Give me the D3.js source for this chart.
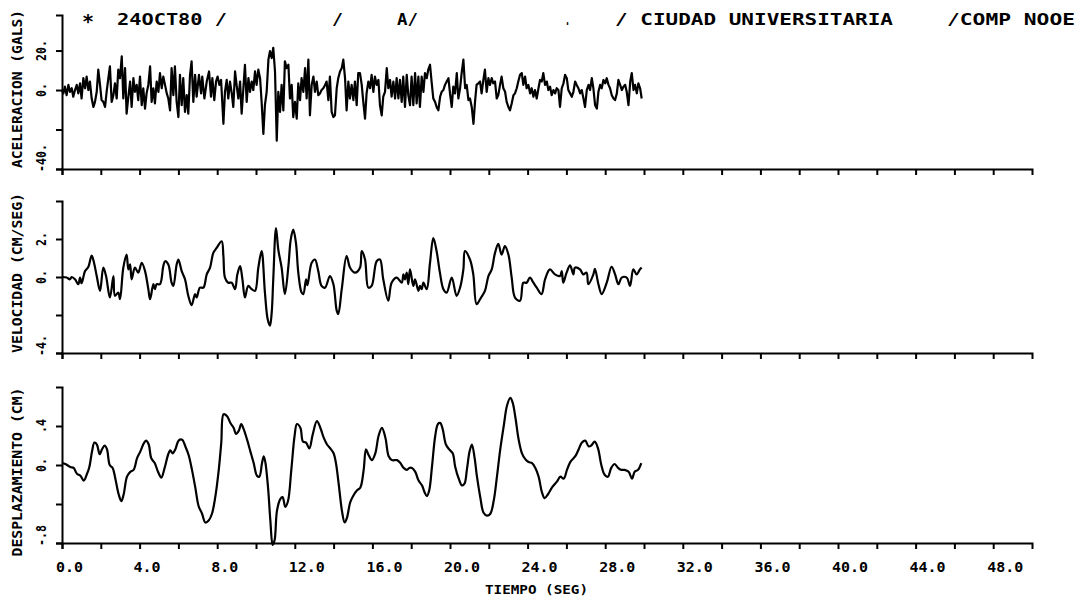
<!DOCTYPE html>
<html>
<head>
<meta charset="utf-8">
<script src="https://cdn.jsdelivr.net/npm/d3@7"></script>
<style>
  body { margin: 0; background: #fff; }
  svg { display: block; }
  text { font-family: "DejaVu Sans Mono", "Liberation Mono", monospace; font-weight: bold; fill: #000; }
</style>
</head>
<body>
<svg id="chart" width="1083" height="601"></svg>
<script>
// --- header / axis texts
const headerParts = ["24OCT80 /", "/", "A/", ".", "/ CIUDAD UNIVERSITARIA", "/COMP NOOE"]
const titles = ["ACELERACION (GALS)", "VELOCIDAD (CM/SEG)", "DESPLAZAMIENTO (CM)"]
const xTitle = "TIEMPO (SEG)"

// --- time axis (seg)
const timeTicks = [0, 2, 4, 6, 8, 10, 12, 14, 16, 18, 20, 22, 24, 26, 28, 30, 32, 34, 36, 38, 40, 42, 44, 46, 48]
const timeLabelValues = [0, 4, 8, 12, 16, 20, 24, 28, 32, 36, 40, 44, 48]
const timeLabels = ["0.0", "4.0", "8.0", "12.0", "16.0", "20.0", "24.0", "28.0", "32.0", "36.0", "40.0", "44.0", "48.0"]

// --- y ticks per panel
const accTicks = [-40, -20, 0, 20]
const accLabels = ["-40.", "", "0.", "20."]
const velTicks = [-4, -2, 0, 2]
const velLabels = ["-4.", "", "0.", "2."]
const dispTicks = [-0.8, -0.4, 0, 0.4]
const dispLabels = ["-.8", "", "0.", ".4"]

// --- aceleracion (gals)
const accTime = [0,0.07,0.15,0.24,0.33,0.41,0.50,0.58,0.67,0.76,0.84,0.93,1.01,1.10,1.19,1.27,1.36,1.44,1.53,1.62,1.70,1.79,1.87,1.96,2.04,2.13,2.22,2.30,2.39,2.47,2.56,2.65,2.73,2.82,2.90,2.99,3.08,3.16,3.25,3.33,3.42,3.51,3.59,3.68,3.76,3.85,3.93,4.02,4.11,4.19,4.28,4.36,4.45,4.54,4.62,4.71,4.79,4.88,4.97,5.05,5.14,5.22,5.31,5.40,5.48,5.57,5.65,5.74,5.82,5.91,6.00,6.08,6.17,6.25,6.34,6.43,6.51,6.60,6.68,6.77,6.86,
  6.94,7.06,7.17,7.23,7.34,7.46,7.58,7.68,7.75,7.85,7.94,8.02,8.11,8.20,8.32,8.40,8.49,8.57,8.66,8.75,8.83,8.92,9.00,9.09,9.18,9.26,9.35,9.43,9.52,9.61,9.69,9.78,9.86,9.95,10.03,10.12,10.21,10.29,10.38,10.46,10.55,10.64,10.72,10.81,10.89,10.98,11.07,11.15,11.24,11.32,11.41,11.49,11.58,11.67,11.75,11.84,11.92,12.01,12.10,12.18,12.27,12.35,12.44,12.53,12.61,12.70,12.78,12.87,12.96,13.04,13.13,13.21,13.30,13.38,13.47,13.56,13.64,13.73,13.81,13.90,13.99,
  14.07,14.16,14.24,14.33,14.42,14.50,14.59,14.67,14.76,14.84,14.93,15.02,15.10,15.19,15.27,15.36,15.45,15.53,15.62,15.70,15.79,15.88,15.96,16.05,16.13,16.22,16.31,16.39,16.48,16.56,16.65,16.74,16.82,16.91,16.99,17.08,17.17,17.25,17.34,17.42,17.51,17.59,17.68,17.77,17.85,17.94,18.02,18.11,18.20,18.28,18.37,18.45,18.54,18.63,18.71,18.80,18.88,18.97,19.06,19.14,19.23,19.31,19.40,19.49,19.57,19.66,19.74,19.83,19.92,20.00,20.09,20.17,20.26,20.35,20.43,20.52,20.60,20.69,20.78,20.86,20.95,21.03,21.12,21.21,21.29,21.37,21.46,21.55,
  21.63,21.72,21.80,21.89,21.98,22.06,22.15,22.23,22.32,22.41,22.49,22.58,22.66,22.75,22.84,22.92,23.01,23.09,23.18,23.27,23.35,23.44,23.52,23.61,23.70,23.78,23.87,23.95,24.04,24.13,24.21,24.30,24.38,24.47,24.56,24.64,24.73,24.81,24.90,24.99,25.07,25.16,25.24,25.33,25.42,25.50,25.59,25.67,25.76,25.85,25.93,26.02,26.10,26.19,26.28,26.36,26.45,26.53,26.62,26.71,26.79,26.88,26.96,27.05,27.14,27.22,27.31,27.39,27.48,27.57,27.65,27.74,27.82,27.91,28.00,28.08,28.17,28.25,28.34,28.43,28.51,28.60,28.68,28.77,28.86,28.94,29.03,29.11,29.20,29.29,29.37,29.46,29.54,29.63,29.71,29.80,29.88]
const accValue = [0,-1.7,1.7,-2.6,2.6,-0.9,0.9,-3.4,0,2.6,-1.7,3.4,-4.3,6.0,0.9,6.8,0,4.3,-4.3,-8.6,-6.0,-0.9,10.3,2.6,-5.1,-6.0,-8.6,-0.9,6.0,12.0,-6.0,-2.6,3.4,-4.3,10.3,6.0,17.1,-4.3,11.1,-12.0,-3.4,4.3,-8.6,6.0,-0.9,2.6,-5.1,6.8,-7.7,0.9,-9.4,-1.7,2.6,12.0,-6.0,0.9,-6.8,4.3,-0.9,8.6,0.9,6.8,2.6,-1.7,-4.3,-10.3,11.1,-2.6,12.0,-6.0,-13.7,7.7,-7.7,6.0,-11.1,-2.6,-12.0,7.7,14.5,-6.0,7.7,
  -3.4,7.7,-1.7,6.8,-4.3,4.3,9.4,-3.4,6.0,-5.1,4.3,6.8,2.6,5.1,-17.1,-0.9,5.1,-4.3,4.3,-1.7,-8.6,9.4,2.6,-4.3,4.3,-12.0,0.9,12.8,-6.0,6.0,-0.9,4.3,0,9.4,2.6,10.3,6.0,-6.0,-22.2,-7.7,-0.9,15.4,19.7,16.2,21.4,9.4,-25.7,-0.9,-11.1,2.6,-10.3,14.5,11.1,12.8,-4.3,2.6,-13.7,-6.0,-14.5,3.4,-5.1,6.0,-0.9,11.1,-4.3,15.4,-12.8,2.6,6.8,-0.9,4.3,-2.6,-1.7,0,0.9,2.6,4.3,-5.1,6.8,-11.1,-13.7,
  -12.8,0.9,6.0,9.4,11.1,15.4,6.0,-10.3,4.3,-4.3,2.6,-5.1,4.3,-7.7,8.6,8.6,2.6,-6.0,-14.5,-1.7,4.3,0.9,7.7,-0.9,6.8,2.6,5.1,-7.7,-12.8,-3.4,-0.9,11.1,0.9,5.1,-3.4,4.3,-4.3,6.0,-4.3,5.1,-6.0,6.8,-8.6,7.7,-2.6,-7.7,6.8,-7.7,8.6,-6.8,6.8,-8.6,6.8,-0.9,8.6,6.0,10.3,12.8,3.4,-4.3,-6.0,-8.6,-10.3,-3.4,-0.9,0,2.6,4.3,6.0,-1.7,-8.6,1.7,-1.7,8.6,-4.3,0.9,8.6,15.4,0.9,2.6,-5.1,-4.3,-8.6,-17.1,-6.0,2.6,3.4,4.3,
  -1.7,5.1,10.3,-0.9,6.0,2.6,6.0,3.4,4.3,-4.3,-2.6,2.6,6.8,0.9,-0.9,-6.0,-8.6,-10.3,-6.8,-2.6,-1.7,0.9,4.3,7.7,8.6,2.6,6.8,0.9,2.6,-1.7,0.9,-3.4,0,-4.3,0.9,5.1,4.3,8.6,2.6,4.3,0,1.7,-2.6,0,-1.7,0.9,0,-8.6,0.9,3.4,7.7,6.0,0,-1.7,-3.4,-0.9,4.3,2.6,0.9,-1.7,0,-4.3,-8.6,0,2.6,0,6.0,0.9,-7.7,-9.4,-0.9,2.6,0.9,5.1,3.4,6.0,2.6,0.9,-2.6,-4.3,-5.1,-1.7,5.1,2.6,0,1.7,2.6,-0.9,-7.7,4.3,8.6,0,2.6,-1.7,3.4,0.9,-4.3]

// --- velocidad (cm/seg)
const velTime = [0,0.24,0.41,0.50,0.67,0.84,0.93,1.01,1.19,1.36,1.53,1.65,1.79,1.96,2.13,2.27,2.47,2.65,2.73,2.90,2.99,3.16,3.33,3.42,3.51,3.59,3.76,3.93,4.11,4.28,4.45,4.54,4.71,4.79,4.88,5.05,5.22,5.31,5.48,5.65,5.74,5.91,6.00,6.17,6.34,6.51,6.68,6.86,6.94,7.11,7.29,7.46,7.63,7.80,7.97,8.23,8.32,8.40,8.57,8.75,8.92,9.04,9.18,9.30,9.43,9.60,9.78,9.95,10.12,10.29,10.46,10.60,10.72,10.81,10.89,11.03,11.15,11.32,11.49,11.67,11.79,11.92,12.06,12.18,12.35,12.44,12.58,12.65,12.87,13.04,13.21,13.38,13.56,13.81,13.99,14.16,14.24,14.42,14.67,14.85,15.10,15.36,
  15.45,15.62,15.79,15.96,16.22,16.39,16.56,16.82,16.99,17.25,17.51,17.60,17.68,17.77,17.85,17.94,18.11,18.20,18.37,18.45,18.54,18.63,18.80,18.97,19.14,19.31,19.48,19.66,19.83,20.09,20.34,20.52,20.69,20.77,21.03,21.20,21.37,21.55,21.80,21.98,22.15,22.32,22.49,22.66,22.83,23.01,23.18,23.35,23.61,23.78,23.95,24.12,24.30,24.47,24.72,24.90,25.15,25.41,25.67,25.76,25.84,26.01,26.19,26.36,26.44,26.70,26.87,27.04,27.13,27.39,27.47,27.65,27.82,28.08,28.33,28.51,28.68,28.85,29.11,29.28,29.45,29.62,29.79,29.88]
const velValue = [0,-0.03,-0.12,0,-0.12,-0.38,-0.03,-0.33,0.31,0.54,1.13,0.75,0.05,-0.73,0.49,0.05,-1.08,0.05,-0.99,-0.82,-1.17,0.49,1.18,0.40,0.66,-0.12,0.49,0.23,0.75,0.31,-0.64,-1.17,-0.38,-0.64,-0.38,-0.38,0.57,0.83,0.66,-0.30,-0.47,0.66,0.92,0.31,-0.12,-0.99,-1.48,-0.90,-1.08,-0.56,-0.56,0.14,0.49,1.27,1.53,1.88,1.10,-0.03,-0.30,-0.30,-0.64,0.14,0.57,-0.12,-1.08,-0.47,-0.64,-0.73,0.49,1.36,-0.82,-2.21,-2.56,-1.86,-0.12,2.57,1.44,0.49,-0.90,0.57,1.97,2.49,1.79,0.23,-0.82,-0.90,-0.12,-0.43,0.75,0.92,0.31,-0.47,-0.56,0.05,-0.38,-1.77,-1.95,-0.64,1.10,0.49,0.23,0.49,
  1.36,0.92,-0.56,-0.47,0.83,0.92,-0.12,-1.25,-0.30,-0.03,-0.30,0.14,-0.12,0.23,-0.38,0.40,-0.47,-0.12,-0.73,-0.47,-0.64,-0.30,-0.64,0.75,2.05,1.36,0.23,-0.64,-0.82,-0.03,-0.99,-0.56,0.40,1.36,0.92,0.14,-1.43,-1.17,-0.73,0.05,0.40,1.27,1.74,1.18,1.62,1.18,-0.03,-1.08,-1.25,-0.30,-0.30,-0.03,-0.30,-0.56,-0.90,-0.12,0.40,0.14,0.05,0.31,-0.30,0.23,0.61,0.14,0.49,0.40,0.14,0.23,-0.38,0.14,0.43,-0.38,-0.90,-0.30,0.54,0.14,-0.38,-0.03,-0.03,-0.47,0.40,0.14,0.40,0.49]

// --- desplazamiento (cm)
const dispTime = [0,0.17,0.43,0.60,0.77,0.95,1.12,1.29,1.41,1.55,1.67,1.80,1.94,2.06,2.20,2.32,2.46,2.61,2.75,2.92,3.06,3.18,3.35,3.52,3.69,3.87,4.04,4.21,4.33,4.47,4.60,4.78,4.95,5.12,5.29,5.46,5.58,5.70,5.84,6.01,6.19,6.36,6.53,6.70,6.87,7.04,7.22,7.39,7.56,7.73,7.90,8.08,8.21,8.33,8.51,8.68,8.85,8.97,9.11,9.24,9.36,9.54,9.71,9.88,10.05,10.17,10.31,10.40,10.48,10.62,10.74,10.86,10.96,11.08,11.25,11.37,11.51,11.65,11.82,11.99,12.11,12.29,12.42,12.58,12.75,12.92,13.14,13.32,13.49,13.66,13.83,14.00,14.12,14.26,14.43,14.57,14.69,14.86,15.03,15.21,
  15.38,15.55,15.67,15.81,15.98,16.15,16.32,16.49,16.67,16.84,17.01,17.27,17.44,17.61,17.78,17.90,18.04,18.21,18.38,18.56,18.69,18.81,18.93,19.07,19.24,19.38,19.50,19.62,19.79,19.96,20.14,20.27,20.45,20.62,20.75,20.87,21.01,21.13,21.27,21.39,21.56,21.73,21.91,22.08,22.25,22.42,22.59,22.77,22.94,23.11,23.23,23.37,23.54,23.71,23.88,24.05,24.23,24.40,24.57,24.74,24.88,25.05,25.26,25.51,25.69,25.86,26.03,26.20,26.46,26.63,26.80,26.97,27.15,27.28,27.46,27.63,27.80,27.97,28.14,28.31,28.49,28.66,28.83,29.00,29.21,29.38,29.52,29.69,29.86]
const dispValue = [0.02,0.01,-0.02,-0.03,-0.09,-0.11,-0.16,-0.09,-0.02,0.14,0.23,0.21,0.11,0.16,0.20,0.16,0,-0.03,-0.14,-0.30,-0.37,-0.30,-0.12,-0.07,-0.05,0.07,0.14,0.22,0.25,0.21,0.07,0.02,-0.07,-0.13,-0.03,0.10,0.15,0.12,0.16,0.25,0.26,0.19,0.10,-0.05,-0.23,-0.42,-0.50,-0.59,-0.57,-0.50,-0.33,-0.05,0.23,0.52,0.50,0.43,0.38,0.32,0.35,0.42,0.37,0.26,0.14,0.02,-0.11,-0.12,0.02,0.09,0.03,-0.23,-0.57,-0.82,-0.77,-0.47,-0.35,-0.33,-0.43,-0.37,-0.05,0.30,0.42,0.38,0.24,0.23,0.17,0.31,0.45,0.38,0.28,0.21,0.17,0.12,0.02,-0.19,-0.47,-0.59,-0.54,-0.38,-0.31,-0.26,
  -0.23,-0.05,0.16,0.10,0.05,0.12,0.30,0.38,0.28,0.09,0.05,0.05,0.02,-0.03,-0.05,-0.03,-0.03,-0.07,-0.16,-0.21,-0.28,-0.32,-0.26,-0.02,0.30,0.42,0.43,0.37,0.21,0.16,0.12,-0.02,-0.14,-0.21,-0.19,-0.05,0.14,0.21,0.07,-0.12,-0.33,-0.49,-0.52,-0.50,-0.37,-0.12,0.16,0.40,0.61,0.69,0.64,0.49,0.26,0.12,0.06,0.03,0.02,-0.03,-0.12,-0.28,-0.34,-0.30,-0.23,-0.17,-0.12,-0.14,-0.05,0.03,0.09,0.16,0.23,0.25,0.19,0.20,0.24,0.17,0,-0.10,-0.12,-0.03,0.01,-0.03,-0.05,-0.05,-0.07,-0.14,-0.07,-0.05,0.02]

const svg = d3.select("#chart")
const x = d3.scaleLinear().domain([0, 50]).range([62, 1032])

const panels = [
  { time: accTime, value: accValue, domain: [-40, 38], range: [169, 15], ticks: accTicks, labels: accLabels, title: titles[0], titleY: 89, titleLen: 158, curve: d3.curveLinear },
  { time: velTime, value: velValue, domain: [-4, 4], range: [353, 201], ticks: velTicks, labels: velLabels, title: titles[1], titleY: 273, titleLen: 160, curve: d3.curveCatmullRom },
  { time: dispTime, value: dispValue, domain: [-0.8, 0.8], range: [543, 387], ticks: dispTicks, labels: dispLabels, title: titles[2], titleY: 472, titleLen: 169, curve: d3.curveCatmullRom }
]

function styleAxis(g) {
  g.selectAll("path, line").attr("stroke", "#000").attr("stroke-width", 2)
  g.selectAll(".tick text").remove()
}

panels.forEach(function(p, i) {
  const y = d3.scaleLinear().domain(p.domain).range(p.range)

  svg.append("g")
      .attr("transform", "translate(0," + p.range[0] + ")")
      .call(d3.axisBottom(x).tickValues(timeTicks).tickSize(6).tickSizeOuter(6))
      .call(styleAxis)

  svg.append("g")
      .attr("transform", "translate(" + x(0) + ",0)")
      .call(d3.axisLeft(y).tickValues(p.ticks).tickSize(6).tickSizeOuter(6))
      .call(styleAxis)

  // rotated y tick labels
  p.ticks.forEach(function(t, j) {
    const lab = p.labels[j]
    if (!lab) return
    const bottom = t === p.domain[0]
    const yy = bottom ? y(t) + 3 : y(t)
    svg.append("text")
      .attr("transform", "translate(46," + yy + ") rotate(-90)")
      .attr("text-anchor", bottom ? "start" : "middle")
      .attr("font-size", 14)
      .attr("textLength", lab.length * 7)
      .attr("lengthAdjust", "spacingAndGlyphs")
      .text(lab)
  })

  svg.append("text")
    .attr("transform", "translate(22," + p.titleY + ") rotate(-90)")
    .attr("text-anchor", "middle")
    .attr("font-size", 13.5)
    .attr("textLength", p.titleLen)
    .attr("lengthAdjust", "spacingAndGlyphs")
    .text(p.title)

  const pts = p.time.map(function(t, k) { return [t, p.value[k]] })
  const line = d3.line()
    .x(function(d) { return x(d[0]) })
    .y(function(d) { return y(d[1]) })
    .curve(p.curve)

  svg.append("path")
    .datum(pts)
    .attr("fill", "none")
    .attr("stroke", "#000")
    .attr("stroke-width", 2.2)
    .attr("stroke-linejoin", "round")
    .attr("d", line)
})

// bottom tick labels
svg.selectAll(".xlab")
  .data(timeLabelValues)
  .enter().append("text")
    .attr("class", "xlab")
    .attr("x", function(d) { return x(d) - 6 })
    .attr("y", 572)
    .attr("font-size", 14)
    .attr("textLength", function(d, i) { return timeLabels[i].length * 9 })
    .attr("lengthAdjust", "spacingAndGlyphs")
    .text(function(d, i) { return timeLabels[i] })

svg.append("text")
  .attr("x", 485).attr("y", 594)
  .attr("font-size", 12.5)
  .attr("textLength", 103)
  .attr("lengthAdjust", "spacingAndGlyphs")
  .text(xTitle)

// header line
const headerX = [117, 332, 397, 565, 615, 947]
const headerLen = [110, 11, 21, 5, 278, 128]
svg.append("text")
  .attr("x", 82).attr("y", 28)
  .attr("font-size", 20)
  .text("*")
headerParts.forEach(function(s, i) {
  svg.append("text")
    .attr("x", headerX[i]).attr("y", 25)
    .attr("font-size", 16)
    .attr("textLength", headerLen[i])
    .attr("lengthAdjust", "spacingAndGlyphs")
    .text(s)
})
</script>
</body>
</html>
